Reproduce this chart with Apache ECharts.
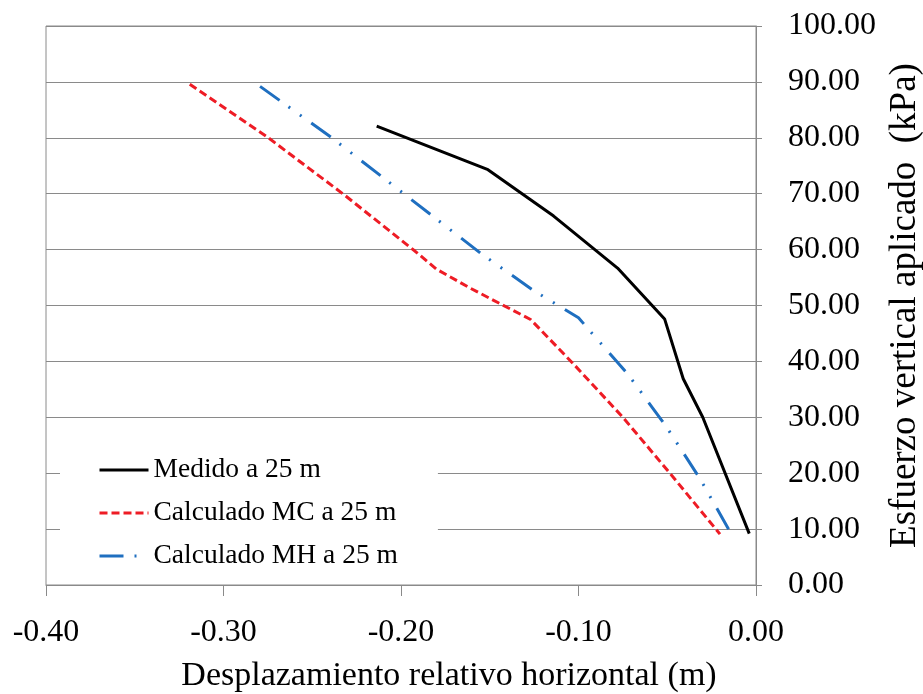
<!DOCTYPE html>
<html>
<head>
<meta charset="utf-8">
<script src="https://cdn.jsdelivr.net/npm/echarts@6/dist/echarts.min.js"></script>
<style>
html,body{margin:0;padding:0;background:#fff;}
#chart{width:923px;height:694px;}
</style>
</head>
<body>
<div id="chart"></div>
<script>
// Data
const seriesNames = ['Medido a 25 m', 'Calculado MC a 25 m', 'Calculado MH a 25 m'];

const medidoX = [-0.2137, -0.151, -0.114, -0.078, -0.0515, -0.041, -0.030, -0.0038];
const medidoY = [82.1, 74.3, 66.0, 56.7, 47.6, 36.9, 30.0, 9.2];

const calcMCX = [-0.319, -0.276, -0.232, -0.192, -0.180, -0.161, -0.127, -0.103, -0.075, -0.0485, -0.0203];
const calcMCY = [89.6, 80.3, 69.8, 59.7, 56.5, 53.1, 47.5, 39.6, 30.0, 20.0, 9.1];

const calcMHX = [-0.2794, -0.239, -0.1818, -0.1545, -0.1254, -0.100, -0.0719, -0.0507, -0.0315, -0.0137];
const calcMHY = [89.2, 80.0, 65.9, 59.2, 52.7, 47.8, 37.6, 28.4, 19.0, 9.0];

const xTicks = [-0.40, -0.30, -0.20, -0.10, 0.00];
const yTicks = [0, 10, 20, 30, 40, 50, 60, 70, 80, 90, 100];

const xTitle = 'Desplazamiento relativo horizontal (m)';
const yTitle = 'Esfuerzo vertical aplicado  (kPa)';

function pairs(xs, ys) { return xs.map((x, i) => [x, ys[i]]); }

const FONT = 'Liberation Serif';
const GRAY = '#8a8a8a';

const chart = echarts.init(document.getElementById('chart'), null, {renderer: 'canvas'});
chart.setOption({
  backgroundColor: '#ffffff',
  animation: false,
  grid: {
    left: 46, right: 167, top: 26, bottom: 109,
    containLabel: false, outerBoundsMode: 'none',
    show: true, borderColor: GRAY, borderWidth: 1, backgroundColor: 'transparent'
  },
  xAxis: {
    type: 'value',
    min: xTicks[0], max: xTicks[xTicks.length - 1], interval: 0.1,
    position: 'bottom',
    axisLine: {show: true, onZero: false, lineStyle: {color: GRAY, width: 1}},
    axisTick: {show: true, inside: false, length: 11, lineStyle: {color: GRAY}},
    splitLine: {show: false},
    axisLabel: {
      margin: 32, color: '#000', fontFamily: FONT, fontSize: 32,
      formatter: v => v.toFixed(2)
    },
    name: xTitle, nameLocation: 'middle', nameGap: 74,
    nameTextStyle: {color: '#000', fontFamily: FONT, fontSize: 34, padding: [0, 0, 0, 96]}
  },
  yAxis: {
    type: 'value',
    min: yTicks[0], max: yTicks[yTicks.length - 1], interval: 10,
    position: 'right',
    axisLine: {show: true, onZero: false, lineStyle: {color: GRAY, width: 1}},
    axisTick: {show: true, inside: false, length: 6, lineStyle: {color: GRAY}},
    splitLine: {show: true, lineStyle: {color: GRAY, width: 1}},
    axisLabel: {
      margin: 32, color: '#000', fontFamily: FONT, fontSize: 32,
      formatter: v => v.toFixed(2)
    },
    name: yTitle, nameLocation: 'middle', nameRotate: 90, nameGap: 130,
    nameTextStyle: {color: '#000', fontFamily: FONT, fontSize: 37}
  },
  legend: {
    show: true, orient: 'vertical', left: 60, top: 442,
    padding: [14, 40, 10, 38],
    backgroundColor: '#ffffff',
    itemWidth: 49, itemHeight: 14, itemGap: 15,
    itemStyle: {opacity: 0},
    lineStyle: {width: 3},
    textStyle: {color: '#000', fontFamily: FONT, fontSize: 27.5, lineHeight: 28},
    data: seriesNames
  },
  series: [
    {
      name: seriesNames[0], type: 'line', symbol: 'none',
      data: pairs(medidoX, medidoY),
      lineStyle: {color: '#000000', width: 3, type: 'solid'},
      itemStyle: {color: '#000000'}
    },
    {
      name: seriesNames[1], type: 'line', symbol: 'none',
      data: pairs(calcMCX, calcMCY),
      lineStyle: {color: '#ee1c25', width: 3, type: [8, 4]},
      itemStyle: {color: '#ee1c25'}
    },
    {
      name: seriesNames[2], type: 'line', symbol: 'none',
      data: pairs(calcMHX, calcMHY),
      lineStyle: {color: '#1f6fc0', width: 3, type: [24, 11, 2, 12, 2, 12]},
      itemStyle: {color: '#1f6fc0'}
    }
  ]
});
</script>
</body>
</html>
